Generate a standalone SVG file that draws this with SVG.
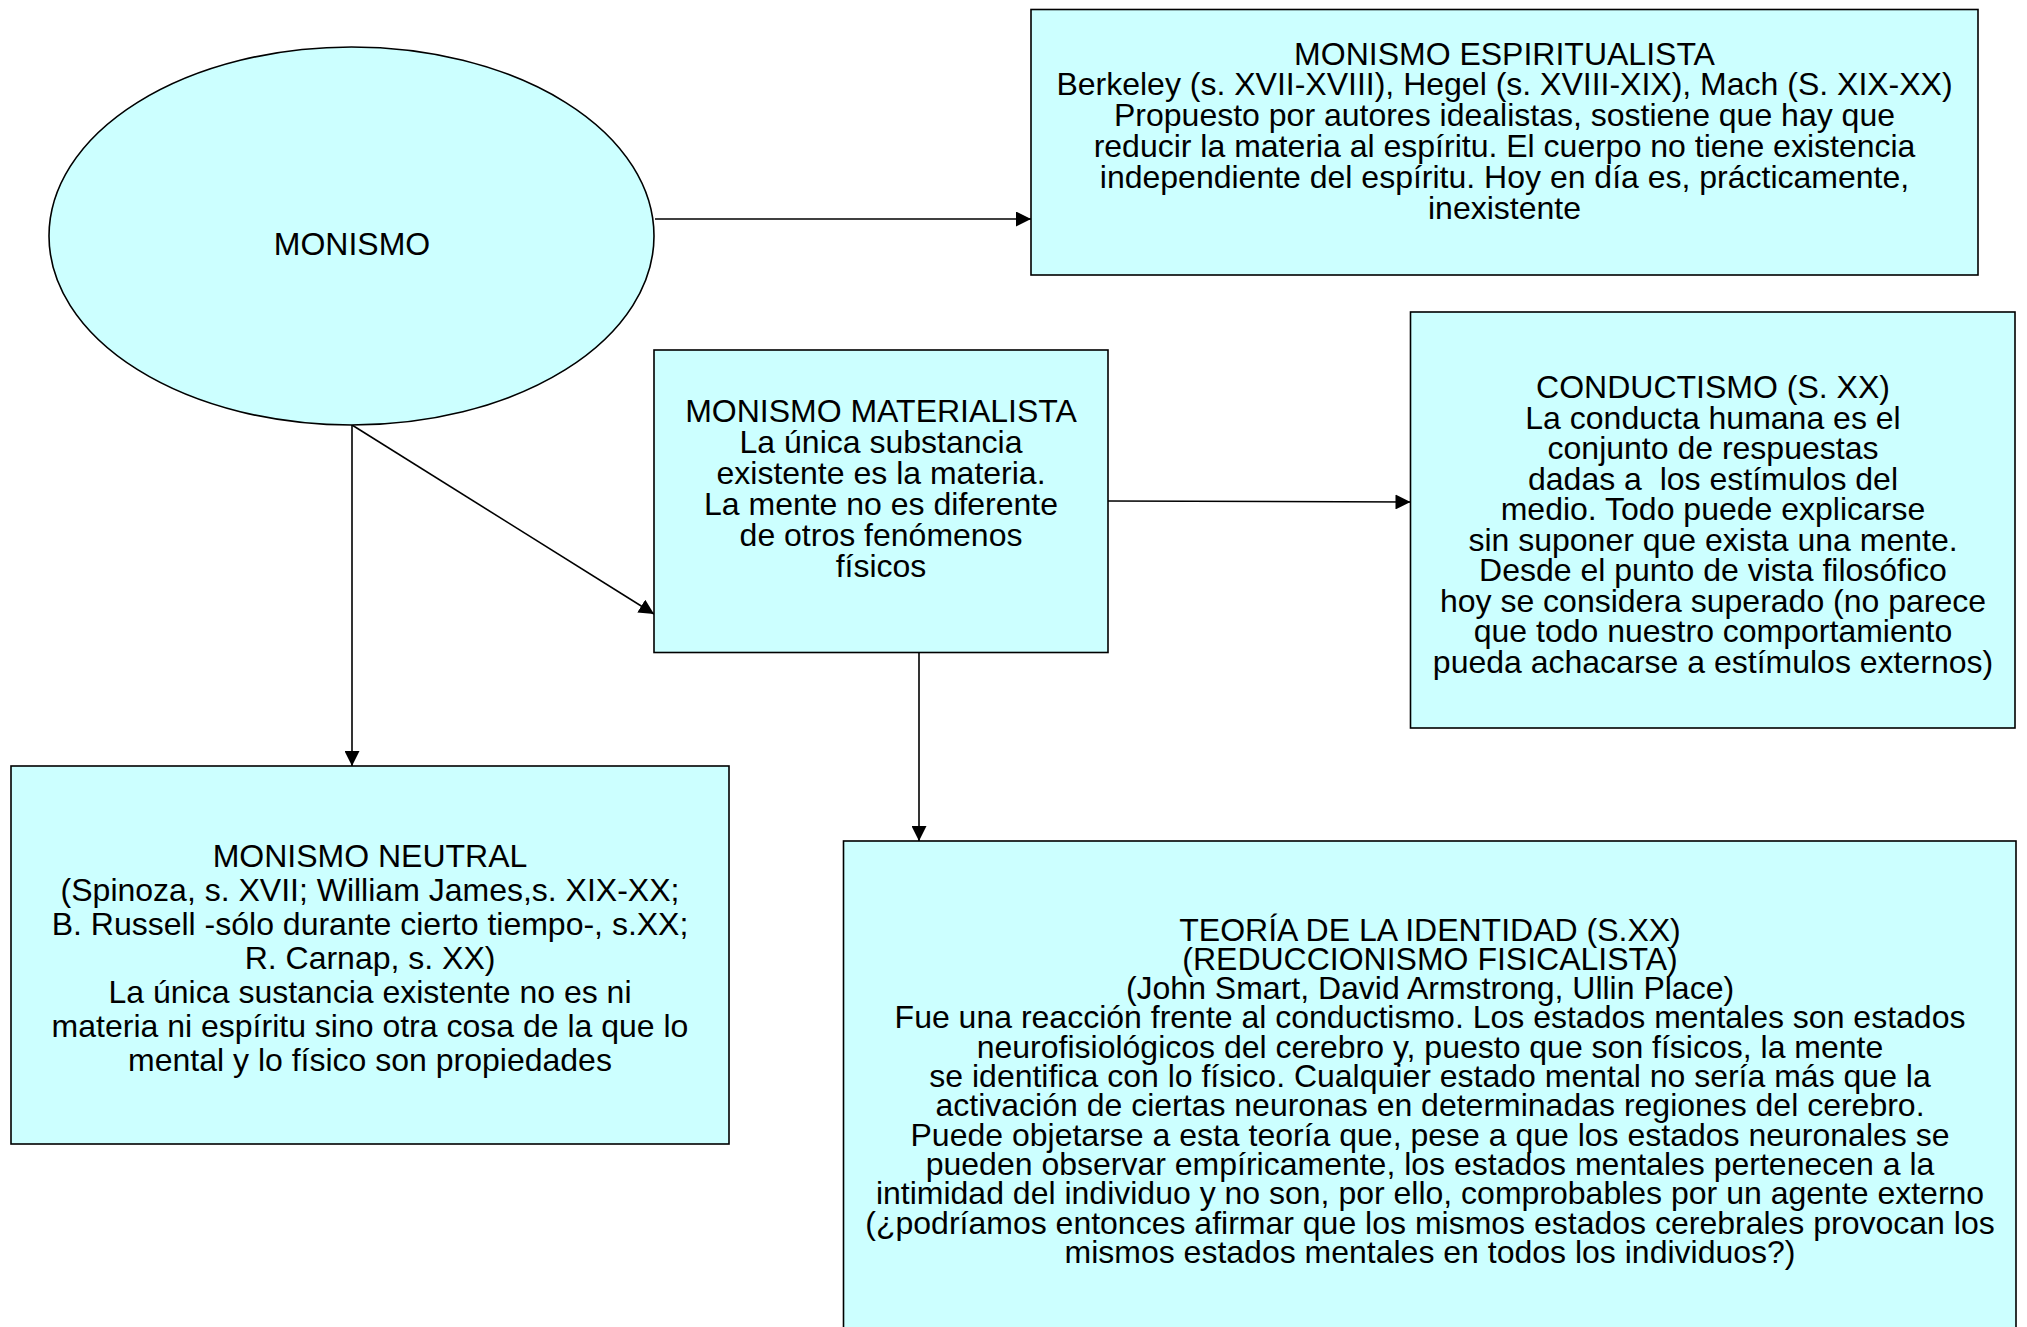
<svg xmlns="http://www.w3.org/2000/svg" width="2027" height="1327" viewBox="0 0 2027 1327">
<style>
.shape{fill:#CCFFFF;stroke:#000;stroke-width:1.6}
.t{font-family:"Liberation Sans",Arial,sans-serif;font-size:32px;fill:#000;text-anchor:middle;white-space:pre}
.c{fill:none;stroke:#000;stroke-width:1.6}
</style>
<defs>
<marker id="ah" markerUnits="userSpaceOnUse" markerWidth="15" markerHeight="15" refX="15" refY="7.5" orient="auto" viewBox="0 0 15 15">
<path d="M0,0 L15,7.5 L0,15 z" fill="#000"/>
</marker>
</defs>
<rect width="2027" height="1327" fill="#fff"/>
<g id="connectors">
<line class="c" x1="655" y1="219" x2="1031" y2="219" marker-end="url(#ah)"/>
<line class="c" x1="352" y1="425" x2="352" y2="766" marker-end="url(#ah)"/>
<line class="c" x1="352" y1="425" x2="654" y2="614" marker-end="url(#ah)"/>
<line class="c" x1="1108" y1="501" x2="1410.5" y2="502" marker-end="url(#ah)"/>
<line class="c" x1="919" y1="652" x2="919" y2="841" marker-end="url(#ah)"/>
</g>
<g id="monismo">
<ellipse class="shape" cx="351.5" cy="236" rx="302.5" ry="189"/>
<text class="t" x="352" y="254.5">MONISMO</text>
</g>
<g id="espiritualista">
<rect class="shape" x="1031" y="9.5" width="947" height="265.5"/>
<text class="t" x="1504.5" y="64.5">MONISMO ESPIRITUALISTA</text>
<text class="t" x="1504.5" y="95.3">Berkeley (s. XVII-XVIII), Hegel (s. XVIII-XIX), Mach (S. XIX-XX)</text>
<text class="t" x="1504.5" y="126.1">Propuesto por autores idealistas, sostiene que hay que</text>
<text class="t" x="1504.5" y="156.9">reducir la materia al espíritu. El cuerpo no tiene existencia</text>
<text class="t" x="1504.5" y="187.7">independiente del espíritu. Hoy en día es, prácticamente,</text>
<text class="t" x="1504.5" y="218.5">inexistente</text>
</g>
<g id="materialista">
<rect class="shape" x="654" y="350" width="454" height="302.5"/>
<text class="t" x="881" y="422">MONISMO MATERIALISTA</text>
<text class="t" x="881" y="453">La única substancia</text>
<text class="t" x="881" y="484">existente es la materia.</text>
<text class="t" x="881" y="515">La mente no es diferente</text>
<text class="t" x="881" y="546">de otros fenómenos</text>
<text class="t" x="881" y="577">físicos</text>
</g>
<g id="conductismo">
<rect class="shape" x="1410.5" y="312" width="604.5" height="416"/>
<text class="t" x="1713" y="398">CONDUCTISMO (S. XX)</text>
<text class="t" x="1713" y="428.5">La conducta humana es el</text>
<text class="t" x="1713" y="459">conjunto de respuestas</text>
<text class="t" x="1713" y="489.5">dadas a  los estímulos del</text>
<text class="t" x="1713" y="520">medio. Todo puede explicarse</text>
<text class="t" x="1713" y="550.5">sin suponer que exista una mente.</text>
<text class="t" x="1713" y="581">Desde el punto de vista filosófico</text>
<text class="t" x="1713" y="611.5">hoy se considera superado (no parece</text>
<text class="t" x="1713" y="642">que todo nuestro comportamiento</text>
<text class="t" x="1713" y="672.5">pueda achacarse a estímulos externos)</text>
</g>
<g id="neutral">
<rect class="shape" x="11" y="766" width="718" height="378"/>
<text class="t" x="370" y="867">MONISMO NEUTRAL</text>
<text class="t" x="370" y="901">(Spinoza, s. XVII; William James,s. XIX-XX;</text>
<text class="t" x="370" y="935">B. Russell -sólo durante cierto tiempo-, s.XX;</text>
<text class="t" x="370" y="969">R. Carnap, s. XX)</text>
<text class="t" x="370" y="1003">La única sustancia existente no es ni</text>
<text class="t" x="370" y="1037">materia ni espíritu sino otra cosa de la que lo</text>
<text class="t" x="370" y="1071">mental y lo físico son propiedades</text>
</g>
<g id="identidad">
<rect class="shape" x="843.5" y="841" width="1172.5" height="500"/>
<text class="t" x="1430" y="940.5">TEORÍA DE LA IDENTIDAD (S.XX)</text>
<text class="t" x="1430" y="969.8">(REDUCCIONISMO FISICALISTA)</text>
<text class="t" x="1430" y="999.1">(John Smart, David Armstrong, Ullin Place)</text>
<text class="t" x="1430" y="1028.4">Fue una reacción frente al conductismo. Los estados mentales son estados</text>
<text class="t" x="1430" y="1057.7">neurofisiológicos del cerebro y, puesto que son físicos, la mente</text>
<text class="t" x="1430" y="1087">se identifica con lo físico. Cualquier estado mental no sería más que la</text>
<text class="t" x="1430" y="1116.3">activación de ciertas neuronas en determinadas regiones del cerebro.</text>
<text class="t" x="1430" y="1145.6">Puede objetarse a esta teoría que, pese a que los estados neuronales se</text>
<text class="t" x="1430" y="1174.9">pueden observar empíricamente, los estados mentales pertenecen a la</text>
<text class="t" x="1430" y="1204.2">intimidad del individuo y no son, por ello, comprobables por un agente externo</text>
<text class="t" x="1430" y="1233.5">(¿podríamos entonces afirmar que los mismos estados cerebrales provocan los</text>
<text class="t" x="1430" y="1262.8">mismos estados mentales en todos los individuos?)</text>
</g>
</svg>
